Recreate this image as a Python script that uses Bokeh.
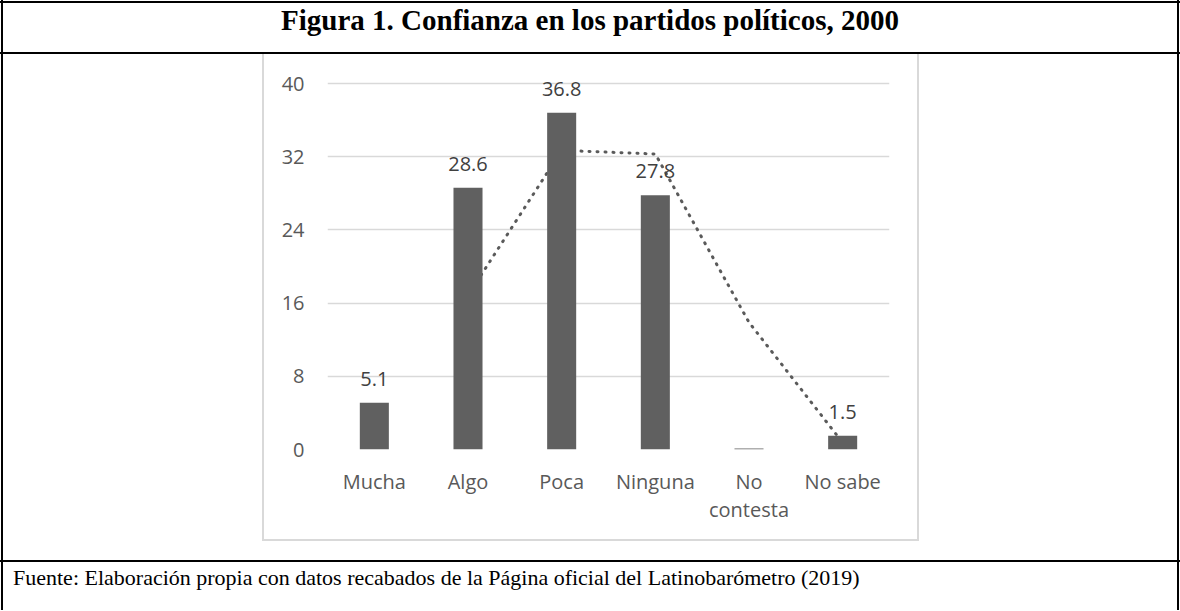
from bokeh.plotting import figure
from bokeh.models import (Range1d, FixedTicker, LabelSet, ColumnDataSource,
                          CategoricalAxis, FactorRange, Div)
from bokeh.layouts import column
from bokeh.core.properties import value
from bokeh.embed import file_html
from bokeh.resources import INLINE

# ---- data ----
categories = ["Mucha", "Algo", "Poca", "Ninguna", "No contesta", "No sabe"]
values = [5.1, 28.6, 36.8, 27.8, 0.1, 1.5]
value_labels = ["5.1", "28.6", "36.8", "27.8", "", "1.5"]
# 2-period moving average trendline
trend_categories = ["Algo", "Poca", "Ninguna", "No contesta", "No sabe"]
trend_values = [16.85, 32.7, 32.3, 13.9, 0.75]
y_ticks = [0, 8, 16, 24, 32, 40]
# category tick labels, first and second text line
tick_line1 = ["Mucha", "Algo", "Poca", "Ninguna", "No", "No sabe"]
tick_line2 = [" ", "  ", "   ", "    ", "contesta", "     "]

title_text = "Figura 1. Confianza en los partidos políticos, 2000"
footer_text = ("Fuente: Elaboración propia con datos recabados de la Página "
               "oficial del Latinobarómetro (2019)")

W = 1180
H_TITLE, H_FIG, H_FOOT = 54, 506, 50


def lines_css(rects):
    """CSS background made of solid rectangles (x, y, w, h, colour)."""
    imgs = ", ".join(f"linear-gradient({c}, {c})" for *_, c in rects)
    sizes = ", ".join(f"{w}px {h}px" for _, _, w, h, _ in rects)
    pos = ", ".join(f"{x}px {y}px" for x, y, _, _, _ in rects)
    return {"background-color": "white", "background-image": imgs,
            "background-size": sizes, "background-position": pos,
            "background-repeat": "no-repeat"}


BLK = "#000000"
GRY = "#d9d9d9"

# ---- title row ----
title_div = Div(
    text=(f'<div style="width:{W}px;text-align:center;'
          "font-family:'Liberation Serif';font-weight:bold;font-size:29px;"
          f'line-height:29px;padding-top:6px;color:#000;white-space:nowrap">'
          f"{title_text}</div>"),
    width=W, height=H_TITLE, margin=(0, 0, 0, 0),
    styles=lines_css([(0, 1, W, 2, BLK), (1, 0, 2, H_TITLE, BLK),
                      (W - 3, 0, 2, H_TITLE, BLK), (0, 52, W, 2, BLK)]))

# ---- chart ----
p = figure(width=W, height=H_FIG, x_range=FactorRange(factors=categories),
           y_range=Range1d(0, 41.1), x_axis_location=None,
           output_backend="svg", toolbar_location=None,
           min_border_left=327, min_border_right=291,
           min_border_top=19, min_border_bottom=111, margin=(0, 0, 0, 0),
           styles=lines_css([(1, 0, 2, H_FIG, BLK), (W - 3, 0, 2, H_FIG, BLK),
                             (262, 0, 2, 487, GRY), (917, 0, 2, 487, GRY),
                             (262, 485, 657, 2, GRY)]))
p.outline_line_color = None
p.background_fill_color = None
p.border_fill_color = None

p.extra_x_ranges = {"line1": FactorRange(factors=tick_line1),
                    "line2": FactorRange(factors=tick_line2)}
ax1 = CategoricalAxis(x_range_name="line1")
ax2 = CategoricalAxis(x_range_name="line2")
p.add_layout(ax1, "below")
p.add_layout(ax2, "below")

p.xgrid.grid_line_color = None
p.ygrid.grid_line_color = GRY
p.ygrid.grid_line_width = 1.5
p.yaxis.ticker = FixedTicker(ticks=y_ticks)
p.ygrid.ticker = FixedTicker(ticks=y_ticks)

for ax in (ax1, ax2, p.yaxis[0]):
    ax.axis_line_color = None
    ax.major_tick_line_color = None
    ax.minor_tick_line_color = None
    ax.major_tick_out = 0
    ax.major_tick_in = 0
    ax.major_label_text_font = "Open Sans"
    ax.major_label_text_font_size = "20px"
    ax.major_label_text_color = "#595959"
p.yaxis.major_label_standoff = 23
ax1.major_label_standoff = 18
ax2.major_label_standoff = -2

# trendline (behind bars)
p.line(x=trend_categories, y=trend_values, line_color="#5a5a5a", line_width=3,
       line_dash="1 7", line_cap="round")

# bars
src = ColumnDataSource(dict(cat=categories, val=values, lab=value_labels))
p.vbar(x="cat", top="val", width=0.31, source=src, fill_color="#606060",
       line_color=None)

p.add_layout(LabelSet(x="cat", y="val", text="lab", source=src, y_offset=24,
                      text_align="center", text_baseline="middle",
                      text_font=value("Open Sans"), text_font_size="20px",
                      text_color="#404040"))

# ---- footer row ----
footer_div = Div(
    text=("<div style=\"font-family:'Liberation Serif';font-size:22px;"
          "line-height:22px;padding-top:7px;padding-left:13px;color:#000;"
          f'white-space:nowrap">{footer_text}</div>'),
    width=W, height=H_FOOT, margin=(0, 0, 0, 0),
    styles=lines_css([(0, 0, W, 2, BLK), (1, 0, 2, H_FOOT, BLK),
                      (W - 3, 0, 2, H_FOOT, BLK)]))

layout = column(title_div, p, footer_div, spacing=0)
open("out.html", "w").write(file_html(layout, INLINE))
